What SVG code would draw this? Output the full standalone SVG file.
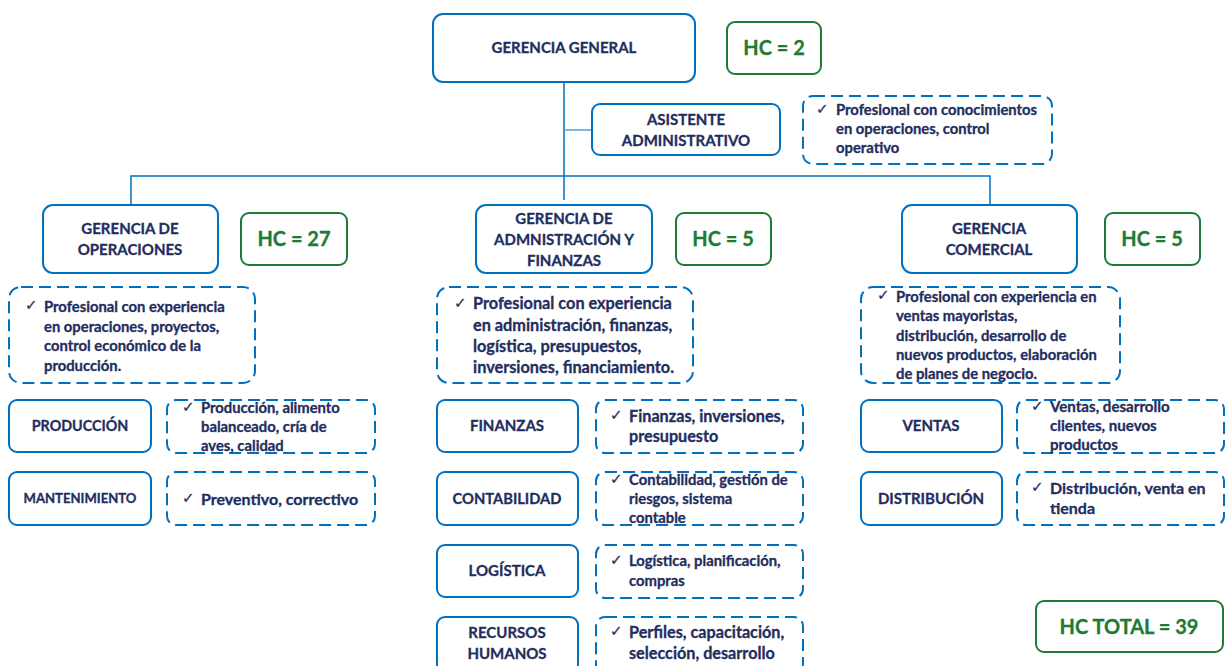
<svg xmlns="http://www.w3.org/2000/svg" width="1227" height="666" viewBox="0 0 1227 666">
<style>
.box{fill:#fff;stroke:#0070C0;stroke-width:2}
.dash{fill:#fff;stroke:#0070C0;stroke-width:2;stroke-dasharray:12 6}
.hc{fill:#fff;stroke:#1E7B34;stroke-width:2}
text{font-family:Lato,"Liberation Sans",sans-serif;font-weight:bold;fill:#1F2E5E;stroke:#1F2E5E;stroke-width:0.3}
.t{font-size:15px;text-anchor:middle}
.d{font-size:14.8px}
.h{font-size:20px;fill:#1E7B34;stroke:#1E7B34;text-anchor:middle}
.ck{font-family:"DejaVu Sans",sans-serif;font-size:15px;font-weight:normal;stroke-width:0.2}
.ln{stroke:#0070C0;stroke-width:1.5;fill:none}
</style>
<rect width="1227" height="666" fill="#fff"/>
<g id="connectors">
<path class="ln" d="M564 82 V200 M131 205 V176 H990 V205"/>
<path d="M564 130 H592" stroke="#5B9BD5" stroke-width="1.5"/>
</g>
<g id="gerencia-general">
<rect class="box" x="433" y="14" width="262" height="68" rx="10"/>
<text class="t" x="564" y="53">GERENCIA GENERAL</text>
</g>
<g id="hc-2">
<rect class="hc" x="727" y="22" width="94" height="52" rx="8"/>
<text class="h" x="774" y="55">HC = 2</text>
</g>
<g id="asistente">
<rect class="box" x="592" y="104" width="188" height="51" rx="8"/>
<text class="t" x="686" y="125">ASISTENTE</text>
<text class="t" x="686" y="146">ADMINISTRATIVO</text>
</g>
<g id="asistente-perfil">
<rect class="dash" x="803" y="96" width="249" height="68" rx="10"/>
<text class="ck" x="816" y="114">✓</text>
<text class="d" x="836" y="115">Profesional con conocimientos</text>
<text class="d" x="836" y="134">en operaciones, control</text>
<text class="d" x="836" y="153">operativo</text>
</g>
<g id="gerencia-operaciones">
<rect class="box" x="43" y="205" width="175" height="68" rx="10"/>
<text class="t" x="130" y="234">GERENCIA DE</text>
<text class="t" x="130" y="255">OPERACIONES</text>
</g>
<g id="hc-27">
<rect class="hc" x="241" y="213" width="106" height="52" rx="8"/>
<text class="h" x="294" y="246">HC = 27</text>
</g>
<g id="operaciones-perfil">
<rect class="dash" x="9" y="287" width="246" height="96" rx="12"/>
<text class="ck" x="25" y="310">✓</text>
<text class="d" x="44" y="312">Profesional con experiencia</text>
<text class="d" x="44" y="332">en operaciones, proyectos,</text>
<text class="d" x="44" y="351">control económico de la</text>
<text class="d" x="44" y="371">producción.</text>
</g>
<g id="produccion">
<rect class="box" x="9" y="400" width="142" height="52" rx="8"/>
<text class="t" x="80" y="431" style="font-size:14.3px">PRODUCCIÓN</text>
</g>
<g id="produccion-detalle">
<rect class="dash" x="167" y="400" width="208" height="53" rx="9"/>
<text class="ck" x="182" y="412">✓</text>
<text class="d" x="201" y="413">Producción, alimento</text>
<text class="d" x="201" y="432">balanceado, cría de</text>
<text class="d" x="201" y="451">aves, calidad</text>
</g>
<g id="mantenimiento">
<rect class="box" x="9" y="472" width="142" height="53" rx="8"/>
<text class="t" x="80" y="503" style="font-size:13.1px">MANTENIMIENTO</text>
</g>
<g id="mantenimiento-detalle">
<rect class="dash" x="167" y="472" width="208" height="53" rx="9"/>
<text class="ck" x="182" y="503">✓</text>
<text class="d" x="201" y="505" style="font-size:16px">Preventivo, correctivo</text>
</g>
<g id="gerencia-administracion">
<rect class="box" x="476" y="205" width="176" height="68" rx="10"/>
<text class="t" x="564" y="224">GERENCIA DE</text>
<text class="t" x="564" y="245">ADMNISTRACIÓN Y</text>
<text class="t" x="564" y="266">FINANZAS</text>
</g>
<g id="hc-5-admin">
<rect class="hc" x="676" y="213" width="95" height="52" rx="8"/>
<text class="h" x="723" y="246">HC = 5</text>
</g>
<g id="administracion-perfil">
<rect class="dash" x="437" y="287" width="256" height="96" rx="12"/>
<text class="ck" x="454" y="308">✓</text>
<text class="d" x="473" y="309" style="font-size:16.3px">Profesional con experiencia</text>
<text class="d" x="473" y="331" style="font-size:16.3px">en administración, finanzas,</text>
<text class="d" x="473" y="352" style="font-size:16.3px">logística, presupuestos,</text>
<text class="d" x="473" y="373" style="font-size:16.3px">inversiones, financiamiento.</text>
</g>
<g id="finanzas">
<rect class="box" x="437" y="400" width="141" height="52" rx="8"/>
<text class="t" x="507" y="431">FINANZAS</text>
</g>
<g id="finanzas-detalle">
<rect class="dash" x="596" y="400" width="207" height="53" rx="9"/>
<text class="ck" x="610" y="420">✓</text>
<text class="d" x="629" y="422" style="font-size:16.2px">Finanzas, inversiones,</text>
<text class="d" x="629" y="442" style="font-size:16.2px">presupuesto</text>
</g>
<g id="contabilidad">
<rect class="box" x="437" y="472" width="141" height="53" rx="8"/>
<text class="t" x="507" y="504" style="font-size:14.7px">CONTABILIDAD</text>
</g>
<g id="contabilidad-detalle">
<rect class="dash" x="596" y="472" width="207" height="53" rx="9"/>
<text class="ck" x="610" y="484">✓</text>
<text class="d" x="629" y="485">Contabilidad, gestión de</text>
<text class="d" x="629" y="504">riesgos, sistema</text>
<text class="d" x="629" y="523">contable</text>
</g>
<g id="logistica">
<rect class="box" x="437" y="545" width="141" height="52" rx="8"/>
<text class="t" x="507" y="576">LOGÍSTICA</text>
</g>
<g id="logistica-detalle">
<rect class="dash" x="596" y="545" width="207" height="53" rx="9"/>
<text class="ck" x="610" y="565">✓</text>
<text class="d" x="629" y="566">Logística, planificación,</text>
<text class="d" x="629" y="586">compras</text>
</g>
<g id="recursos-humanos">
<rect class="box" x="437" y="617" width="141" height="56" rx="8"/>
<text class="t" x="507" y="638">RECURSOS</text>
<text class="t" x="507" y="659">HUMANOS</text>
</g>
<g id="recursos-humanos-detalle">
<rect class="dash" x="596" y="617" width="207" height="56" rx="9"/>
<text class="ck" x="610" y="636">✓</text>
<text class="d" x="629" y="638" style="font-size:16.2px">Perfiles, capacitación,</text>
<text class="d" x="629" y="659" style="font-size:16.2px">selección, desarrollo</text>
</g>
<g id="gerencia-comercial">
<rect class="box" x="902" y="205" width="175" height="68" rx="10"/>
<text class="t" x="989" y="234">GERENCIA</text>
<text class="t" x="989" y="255">COMERCIAL</text>
</g>
<g id="hc-5-comercial">
<rect class="hc" x="1105" y="213" width="95" height="52" rx="8"/>
<text class="h" x="1152" y="246">HC = 5</text>
</g>
<g id="comercial-perfil">
<rect class="dash" x="861" y="287" width="259" height="96" rx="12"/>
<text class="ck" x="877" y="300">✓</text>
<text class="d" x="896" y="302">Profesional con experiencia en</text>
<text class="d" x="896" y="321">ventas mayoristas,</text>
<text class="d" x="896" y="341">distribución, desarrollo de</text>
<text class="d" x="896" y="360">nuevos productos, elaboración</text>
<text class="d" x="896" y="379">de planes de negocio.</text>
</g>
<g id="ventas">
<rect class="box" x="861" y="400" width="141" height="52" rx="8"/>
<text class="t" x="931" y="431">VENTAS</text>
</g>
<g id="ventas-detalle">
<rect class="dash" x="1017" y="400" width="207" height="53" rx="9"/>
<text class="ck" x="1031" y="411">✓</text>
<text class="d" x="1050" y="412" style="font-size:15.1px">Ventas, desarrollo</text>
<text class="d" x="1050" y="431" style="font-size:15.1px">clientes, nuevos</text>
<text class="d" x="1050" y="450" style="font-size:15.1px">productos</text>
</g>
<g id="distribucion">
<rect class="box" x="861" y="472" width="141" height="53" rx="8"/>
<text class="t" x="931" y="504">DISTRIBUCIÓN</text>
</g>
<g id="distribucion-detalle">
<rect class="dash" x="1017" y="472" width="207" height="53" rx="9"/>
<text class="ck" x="1031" y="492">✓</text>
<text class="d" x="1050" y="494" style="font-size:16px">Distribución, venta en</text>
<text class="d" x="1050" y="514" style="font-size:16px">tienda</text>
</g>
<g id="hc-total">
<rect class="hc" x="1036" y="601" width="187" height="51" rx="8"/>
<text class="h" x="1129" y="634">HC TOTAL = 39</text>
</g>
</svg>
